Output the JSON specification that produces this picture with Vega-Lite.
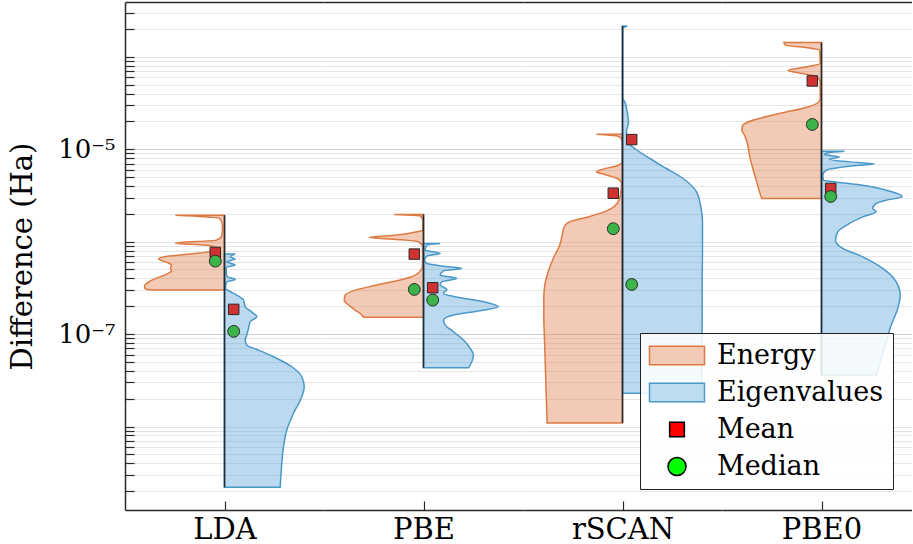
{
  "$schema": "https://vega.github.io/schema/vega-lite/v6.json",
  "padding": {"left": 8, "top": -1, "right": 0, "bottom": 0},
  "background": "white",
  "config": {
    "view": {"stroke": null},
    "font": "DejaVu Serif",
    "axis": {"labelFont": "DejaVu Serif", "titleFont": "DejaVu Serif", "labelColor": "#000000", "titleColor": "#000000"},
    "legend": {"labelFont": "DejaVu Serif"}
  },
  "datasets": {
    "dens": [
      {"m":"LDA","s":"Energy","v":1.934e-6,"d":0.49},
      {"m":"LDA","s":"Energy","v":1.863e-6,"d":0.2},
      {"m":"LDA","s":"Energy","v":1.795e-6,"d":0.05},
      {"m":"LDA","s":"Energy","v":1.508e-6,"d":0.02},
      {"m":"LDA","s":"Energy","v":1.176e-6,"d":0.025},
      {"m":"LDA","s":"Energy","v":1.038e-6,"d":0.08},
      {"m":"LDA","s":"Energy","v":9.63e-7,"d":0.49},
      {"m":"LDA","s":"Energy","v":9.17e-7,"d":0.2},
      {"m":"LDA","s":"Energy","v":8.51e-7,"d":0.08},
      {"m":"LDA","s":"Energy","v":7.89e-7,"d":0.12},
      {"m":"LDA","s":"Energy","v":7.33e-7,"d":0.35},
      {"m":"LDA","s":"Energy","v":6.8e-7,"d":0.62},
      {"m":"LDA","s":"Energy","v":6.47e-7,"d":0.66},
      {"m":"LDA","s":"Energy","v":6.0e-7,"d":0.58},
      {"m":"LDA","s":"Energy","v":5.57e-7,"d":0.53},
      {"m":"LDA","s":"Energy","v":5.17e-7,"d":0.54},
      {"m":"LDA","s":"Energy","v":4.8e-7,"d":0.53},
      {"m":"LDA","s":"Energy","v":4.45e-7,"d":0.58},
      {"m":"LDA","s":"Energy","v":4.03e-7,"d":0.68},
      {"m":"LDA","s":"Energy","v":3.65e-7,"d":0.76},
      {"m":"LDA","s":"Energy","v":3.3e-7,"d":0.8},
      {"m":"LDA","s":"Energy","v":3.07e-7,"d":0.79},
      {"m":"LDA","s":"Energy","v":2.99e-7,"d":0.71},
      {"m":"LDA","s":"Eigenvalues","v":7.33e-7,"d":0.107},
      {"m":"LDA","s":"Eigenvalues","v":6.85e-7,"d":0.057},
      {"m":"LDA","s":"Eigenvalues","v":6.47e-7,"d":0.107},
      {"m":"LDA","s":"Eigenvalues","v":6.05e-7,"d":0.023},
      {"m":"LDA","s":"Eigenvalues","v":5.57e-7,"d":0.107},
      {"m":"LDA","s":"Eigenvalues","v":5.26e-7,"d":0.017},
      {"m":"LDA","s":"Eigenvalues","v":4.53e-7,"d":0.017},
      {"m":"LDA","s":"Eigenvalues","v":4.16e-7,"d":0.03},
      {"m":"LDA","s":"Eigenvalues","v":3.9e-7,"d":0.107},
      {"m":"LDA","s":"Eigenvalues","v":3.65e-7,"d":0.02},
      {"m":"LDA","s":"Eigenvalues","v":3.12e-7,"d":0.01},
      {"m":"LDA","s":"Eigenvalues","v":2.87e-7,"d":0.06},
      {"m":"LDA","s":"Eigenvalues","v":2.64e-7,"d":0.123},
      {"m":"LDA","s":"Eigenvalues","v":2.33e-7,"d":0.19},
      {"m":"LDA","s":"Eigenvalues","v":1.97e-7,"d":0.207},
      {"m":"LDA","s":"Eigenvalues","v":1.74e-7,"d":0.27},
      {"m":"LDA","s":"Eigenvalues","v":1.54e-7,"d":0.323},
      {"m":"LDA","s":"Eigenvalues","v":1.36e-7,"d":0.257},
      {"m":"LDA","s":"Eigenvalues","v":1.15e-7,"d":0.24},
      {"m":"LDA","s":"Eigenvalues","v":9.75e-8,"d":0.223},
      {"m":"LDA","s":"Eigenvalues","v":8.61e-8,"d":0.207},
      {"m":"LDA","s":"Eigenvalues","v":7.6e-8,"d":0.223},
      {"m":"LDA","s":"Eigenvalues","v":6.71e-8,"d":0.34},
      {"m":"LDA","s":"Eigenvalues","v":5.68e-8,"d":0.49},
      {"m":"LDA","s":"Eigenvalues","v":4.43e-8,"d":0.673},
      {"m":"LDA","s":"Eigenvalues","v":3.45e-8,"d":0.773},
      {"m":"LDA","s":"Eigenvalues","v":2.69e-8,"d":0.797},
      {"m":"LDA","s":"Eigenvalues","v":2.1e-8,"d":0.773},
      {"m":"LDA","s":"Eigenvalues","v":1.39e-8,"d":0.69},
      {"m":"LDA","s":"Eigenvalues","v":9.17e-9,"d":0.623},
      {"m":"LDA","s":"Eigenvalues","v":6.05e-9,"d":0.59},
      {"m":"LDA","s":"Eigenvalues","v":4.0e-9,"d":0.573},
      {"m":"LDA","s":"Eigenvalues","v":2.2e-9,"d":0.557},
      {"m":"PBE","s":"Energy","v":1.968e-6,"d":0.293},
      {"m":"PBE","s":"Energy","v":1.9e-6,"d":0.033},
      {"m":"PBE","s":"Energy","v":1.708e-6,"d":0.007},
      {"m":"PBE","s":"Energy","v":1.331e-6,"d":0.007},
      {"m":"PBE","s":"Energy","v":1.276e-6,"d":0.067},
      {"m":"PBE","s":"Energy","v":1.176e-6,"d":0.267},
      {"m":"PBE","s":"Energy","v":1.11e-6,"d":0.54},
      {"m":"PBE","s":"Energy","v":1.056e-6,"d":0.267},
      {"m":"PBE","s":"Energy","v":9.95e-7,"d":0.05},
      {"m":"PBE","s":"Energy","v":8.79e-7,"d":0.01},
      {"m":"PBE","s":"Energy","v":5.34e-7,"d":0.01},
      {"m":"PBE","s":"Energy","v":4.92e-7,"d":0.027},
      {"m":"PBE","s":"Energy","v":4.34e-7,"d":0.083},
      {"m":"PBE","s":"Energy","v":3.84e-7,"d":0.233},
      {"m":"PBE","s":"Energy","v":3.39e-7,"d":0.467},
      {"m":"PBE","s":"Energy","v":2.99e-7,"d":0.683},
      {"m":"PBE","s":"Energy","v":2.64e-7,"d":0.783},
      {"m":"PBE","s":"Energy","v":2.33e-7,"d":0.793},
      {"m":"PBE","s":"Energy","v":2.06e-7,"d":0.75},
      {"m":"PBE","s":"Energy","v":1.82e-7,"d":0.683},
      {"m":"PBE","s":"Energy","v":1.61e-7,"d":0.617},
      {"m":"PBE","s":"Energy","v":1.52e-7,"d":0.6},
      {"m":"PBE","s":"Eigenvalues","v":9.56e-7,"d":0.167},
      {"m":"PBE","s":"Eigenvalues","v":9.17e-7,"d":0.033},
      {"m":"PBE","s":"Eigenvalues","v":8.09e-7,"d":0.017},
      {"m":"PBE","s":"Eigenvalues","v":7.46e-7,"d":0.167},
      {"m":"PBE","s":"Eigenvalues","v":6.97e-7,"d":0.033},
      {"m":"PBE","s":"Eigenvalues","v":6.31e-7,"d":0.01},
      {"m":"PBE","s":"Eigenvalues","v":5.81e-7,"d":0.033},
      {"m":"PBE","s":"Eigenvalues","v":5.43e-7,"d":0.2},
      {"m":"PBE","s":"Eigenvalues","v":5.13e-7,"d":0.383},
      {"m":"PBE","s":"Eigenvalues","v":4.84e-7,"d":0.2},
      {"m":"PBE","s":"Eigenvalues","v":4.34e-7,"d":0.167},
      {"m":"PBE","s":"Eigenvalues","v":4.0e-7,"d":0.333},
      {"m":"PBE","s":"Eigenvalues","v":3.68e-7,"d":0.183},
      {"m":"PBE","s":"Eigenvalues","v":3.39e-7,"d":0.167},
      {"m":"PBE","s":"Eigenvalues","v":3.04e-7,"d":0.233},
      {"m":"PBE","s":"Eigenvalues","v":2.75e-7,"d":0.2},
      {"m":"PBE","s":"Eigenvalues","v":2.53e-7,"d":0.317},
      {"m":"PBE","s":"Eigenvalues","v":2.24e-7,"d":0.6},
      {"m":"PBE","s":"Eigenvalues","v":1.97e-7,"d":0.75},
      {"m":"PBE","s":"Eigenvalues","v":1.79e-7,"d":0.567},
      {"m":"PBE","s":"Eigenvalues","v":1.61e-7,"d":0.3},
      {"m":"PBE","s":"Eigenvalues","v":1.42e-7,"d":0.2},
      {"m":"PBE","s":"Eigenvalues","v":1.25e-7,"d":0.217},
      {"m":"PBE","s":"Eigenvalues","v":1.06e-7,"d":0.3},
      {"m":"PBE","s":"Eigenvalues","v":8.61e-8,"d":0.4},
      {"m":"PBE","s":"Eigenvalues","v":7.0e-8,"d":0.467},
      {"m":"PBE","s":"Eigenvalues","v":5.93e-8,"d":0.5},
      {"m":"PBE","s":"Eigenvalues","v":5.02e-8,"d":0.483},
      {"m":"PBE","s":"Eigenvalues","v":4.32e-8,"d":0.45},
      {"m":"rSCAN","s":"Energy","v":1.453e-5,"d":0.26},
      {"m":"rSCAN","s":"Energy","v":1.394e-5,"d":0.06},
      {"m":"rSCAN","s":"Energy","v":1.326e-5,"d":0.02},
      {"m":"rSCAN","s":"Energy","v":1.2e-5,"d":0.003},
      {"m":"rSCAN","s":"Energy","v":7.3e-6,"d":0.003},
      {"m":"rSCAN","s":"Energy","v":6.71e-6,"d":0.043},
      {"m":"rSCAN","s":"Energy","v":6.08e-6,"d":0.193},
      {"m":"rSCAN","s":"Energy","v":5.68e-6,"d":0.26},
      {"m":"rSCAN","s":"Energy","v":5.33e-6,"d":0.177},
      {"m":"rSCAN","s":"Energy","v":4.82e-6,"d":0.053},
      {"m":"rSCAN","s":"Energy","v":4.26e-6,"d":0.01},
      {"m":"rSCAN","s":"Energy","v":3.18e-6,"d":0.02},
      {"m":"rSCAN","s":"Energy","v":2.59e-6,"d":0.053},
      {"m":"rSCAN","s":"Energy","v":2.19e-6,"d":0.143},
      {"m":"rSCAN","s":"Energy","v":1.85e-6,"d":0.343},
      {"m":"rSCAN","s":"Energy","v":1.64e-6,"d":0.527},
      {"m":"rSCAN","s":"Energy","v":1.45e-6,"d":0.583},
      {"m":"rSCAN","s":"Energy","v":1.176e-6,"d":0.603},
      {"m":"rSCAN","s":"Energy","v":9.17e-7,"d":0.627},
      {"m":"rSCAN","s":"Energy","v":6.58e-7,"d":0.693},
      {"m":"rSCAN","s":"Energy","v":4.72e-7,"d":0.743},
      {"m":"rSCAN","s":"Energy","v":3.39e-7,"d":0.777},
      {"m":"rSCAN","s":"Energy","v":2.43e-7,"d":0.787},
      {"m":"rSCAN","s":"Energy","v":1.61e-7,"d":0.787},
      {"m":"rSCAN","s":"Energy","v":1.06e-7,"d":0.783},
      {"m":"rSCAN","s":"Energy","v":7.0e-8,"d":0.777},
      {"m":"rSCAN","s":"Energy","v":3.05e-8,"d":0.767},
      {"m":"rSCAN","s":"Energy","v":1.09e-8,"d":0.753},
      {"m":"rSCAN","s":"Eigenvalues","v":2.153e-4,"d":0.047},
      {"m":"rSCAN","s":"Eigenvalues","v":2.018e-4,"d":0.003},
      {"m":"rSCAN","s":"Eigenvalues","v":3.532e-5,"d":0.003},
      {"m":"rSCAN","s":"Eigenvalues","v":3.246e-5,"d":0.023},
      {"m":"rSCAN","s":"Eigenvalues","v":2.53e-5,"d":0.047},
      {"m":"rSCAN","s":"Eigenvalues","v":1.973e-5,"d":0.06},
      {"m":"rSCAN","s":"Eigenvalues","v":1.538e-5,"d":0.04},
      {"m":"rSCAN","s":"Eigenvalues","v":1.199e-5,"d":0.047},
      {"m":"rSCAN","s":"Eigenvalues","v":1.018e-5,"d":0.123},
      {"m":"rSCAN","s":"Eigenvalues","v":7.93e-6,"d":0.273},
      {"m":"rSCAN","s":"Eigenvalues","v":6.18e-6,"d":0.44},
      {"m":"rSCAN","s":"Eigenvalues","v":4.82e-6,"d":0.607},
      {"m":"rSCAN","s":"Eigenvalues","v":3.455e-6,"d":0.74},
      {"m":"rSCAN","s":"Eigenvalues","v":2.48e-6,"d":0.78},
      {"m":"rSCAN","s":"Eigenvalues","v":1.64e-6,"d":0.8},
      {"m":"rSCAN","s":"Eigenvalues","v":8.44e-7,"d":0.8},
      {"m":"rSCAN","s":"Eigenvalues","v":3.68e-7,"d":0.797},
      {"m":"rSCAN","s":"Eigenvalues","v":1.61e-7,"d":0.797},
      {"m":"rSCAN","s":"Eigenvalues","v":7.0e-8,"d":0.793},
      {"m":"rSCAN","s":"Eigenvalues","v":2.29e-8,"d":0.79},
      {"m":"PBE0","s":"Energy","v":1.424e-4,"d":0.377},
      {"m":"PBE0","s":"Energy","v":1.331e-4,"d":0.36},
      {"m":"PBE0","s":"Energy","v":1.245e-4,"d":0.12},
      {"m":"PBE0","s":"Energy","v":1.176e-4,"d":0.02},
      {"m":"PBE0","s":"Energy","v":8.44e-5,"d":0.013},
      {"m":"PBE0","s":"Energy","v":7.76e-5,"d":0.153},
      {"m":"PBE0","s":"Energy","v":7.15e-5,"d":0.337},
      {"m":"PBE0","s":"Energy","v":6.58e-5,"d":0.187},
      {"m":"PBE0","s":"Energy","v":6.05e-5,"d":0.047},
      {"m":"PBE0","s":"Energy","v":5.34e-5,"d":0.013},
      {"m":"PBE0","s":"Energy","v":3.53e-5,"d":0.013},
      {"m":"PBE0","s":"Energy","v":3.25e-5,"d":0.027},
      {"m":"PBE0","s":"Energy","v":2.866e-5,"d":0.137},
      {"m":"PBE0","s":"Energy","v":2.43e-5,"d":0.42},
      {"m":"PBE0","s":"Energy","v":2.058e-5,"d":0.687},
      {"m":"PBE0","s":"Energy","v":1.818e-5,"d":0.787},
      {"m":"PBE0","s":"Energy","v":1.605e-5,"d":0.797},
      {"m":"PBE0","s":"Energy","v":1.417e-5,"d":0.77},
      {"m":"PBE0","s":"Energy","v":1.105e-5,"d":0.737},
      {"m":"PBE0","s":"Energy","v":8.61e-6,"d":0.72},
      {"m":"PBE0","s":"Energy","v":6.18e-6,"d":0.687},
      {"m":"PBE0","s":"Energy","v":4.43e-6,"d":0.647},
      {"m":"PBE0","s":"Energy","v":3.455e-6,"d":0.62},
      {"m":"PBE0","s":"Energy","v":2.93e-6,"d":0.597},
      {"m":"PBE0","s":"Eigenvalues","v":9.51e-6,"d":0.23},
      {"m":"PBE0","s":"Eigenvalues","v":9.21e-6,"d":0.08},
      {"m":"PBE0","s":"Eigenvalues","v":8.76e-6,"d":0.03},
      {"m":"PBE0","s":"Eigenvalues","v":8.26e-6,"d":0.18},
      {"m":"PBE0","s":"Eigenvalues","v":7.79e-6,"d":0.08},
      {"m":"PBE0","s":"Eigenvalues","v":7.29e-6,"d":0.28},
      {"m":"PBE0","s":"Eigenvalues","v":6.94e-6,"d":0.53},
      {"m":"PBE0","s":"Eigenvalues","v":6.55e-6,"d":0.28},
      {"m":"PBE0","s":"Eigenvalues","v":5.93e-6,"d":0.047},
      {"m":"PBE0","s":"Eigenvalues","v":5.23e-6,"d":0.013},
      {"m":"PBE0","s":"Eigenvalues","v":4.62e-6,"d":0.02},
      {"m":"PBE0","s":"Eigenvalues","v":4.365e-6,"d":0.18},
      {"m":"PBE0","s":"Eigenvalues","v":4.08e-6,"d":0.413},
      {"m":"PBE0","s":"Eigenvalues","v":3.6e-6,"d":0.647},
      {"m":"PBE0","s":"Eigenvalues","v":3.24e-6,"d":0.78},
      {"m":"PBE0","s":"Eigenvalues","v":3.05e-6,"d":0.807},
      {"m":"PBE0","s":"Eigenvalues","v":2.81e-6,"d":0.647},
      {"m":"PBE0","s":"Eigenvalues","v":2.59e-6,"d":0.547},
      {"m":"PBE0","s":"Eigenvalues","v":2.285e-6,"d":0.513},
      {"m":"PBE0","s":"Eigenvalues","v":2.1e-6,"d":0.547},
      {"m":"PBE0","s":"Eigenvalues","v":1.85e-6,"d":0.413},
      {"m":"PBE0","s":"Eigenvalues","v":1.573e-6,"d":0.28},
      {"m":"PBE0","s":"Eigenvalues","v":1.276e-6,"d":0.163},
      {"m":"PBE0","s":"Eigenvalues","v":1.038e-6,"d":0.14},
      {"m":"PBE0","s":"Eigenvalues","v":8.44e-7,"d":0.213},
      {"m":"PBE0","s":"Eigenvalues","v":6.85e-7,"d":0.413},
      {"m":"PBE0","s":"Eigenvalues","v":5.13e-7,"d":0.613},
      {"m":"PBE0","s":"Eigenvalues","v":3.68e-7,"d":0.747},
      {"m":"PBE0","s":"Eigenvalues","v":2.64e-7,"d":0.787},
      {"m":"PBE0","s":"Eigenvalues","v":1.9e-7,"d":0.763},
      {"m":"PBE0","s":"Eigenvalues","v":1.25e-7,"d":0.697},
      {"m":"PBE0","s":"Eigenvalues","v":8.26e-8,"d":0.647},
      {"m":"PBE0","s":"Eigenvalues","v":5.5e-8,"d":0.6},
      {"m":"PBE0","s":"Eigenvalues","v":3.6e-8,"d":0.55}
    ],
    "stats": [
      {"m":"LDA","s":"Energy","t":"Mean","v":7.64e-7},
      {"m":"LDA","s":"Energy","t":"Median","v":6.15e-7},
      {"m":"LDA","s":"Eigenvalues","t":"Mean","v":1.85e-7},
      {"m":"LDA","s":"Eigenvalues","t":"Median","v":1.07e-7},
      {"m":"PBE","s":"Energy","t":"Mean","v":7.33e-7},
      {"m":"PBE","s":"Energy","t":"Median","v":3.04e-7},
      {"m":"PBE","s":"Eigenvalues","t":"Mean","v":3.17e-7},
      {"m":"PBE","s":"Eigenvalues","t":"Median","v":2.33e-7},
      {"m":"rSCAN","s":"Energy","t":"Mean","v":3.34e-6},
      {"m":"rSCAN","s":"Energy","t":"Median","v":1.38e-6},
      {"m":"rSCAN","s":"Eigenvalues","t":"Mean","v":1.27e-5},
      {"m":"rSCAN","s":"Eigenvalues","t":"Median","v":3.44e-7},
      {"m":"PBE0","s":"Energy","t":"Mean","v":5.47e-5},
      {"m":"PBE0","s":"Energy","t":"Median","v":1.85e-5},
      {"m":"PBE0","s":"Eigenvalues","t":"Mean","v":3.76e-6},
      {"m":"PBE0","s":"Eigenvalues","t":"Median","v":3.08e-6}
    ],
    "legendItems": [
      {"m":"PBE0","k":"Energy","v":1e-6},
      {"m":"PBE0","k":"Eigenvalues","v":1e-6},
      {"m":"PBE0","k":"Mean","v":1e-6},
      {"m":"PBE0","k":"Median","v":1e-6}
    ]
  },
  "spacing": 0,
  "bounds": "flush",
  "hconcat": [
    {
      "width": 199, "height": 508,
      "encoding": {
        "y": {"field": "v", "type": "quantitative", "scale": {"type": "log", "domain": [1.25e-9, 3.91e-4], "nice": false},
          "axis": {
            "values": [2e-9,3e-9,4e-9,5e-9,6e-9,7e-9,8e-9,9e-9,1e-8,2e-8,3e-8,4e-8,5e-8,6e-8,7e-8,8e-8,9e-8,1e-7,2e-7,3e-7,4e-7,5e-7,6e-7,7e-7,8e-7,9e-7,1e-6,2e-6,3e-6,4e-6,5e-6,6e-6,7e-6,8e-6,9e-6,1e-5,2e-5,3e-5,4e-5,5e-5,6e-5,7e-5,8e-5,9e-5,1e-4,2e-4,3e-4],
            "labelExpr": "datum.value == 1e-5 ? '10⁻⁵' : datum.value == 1e-7 ? '10⁻⁷' : ''",
            "labelFontSize": 26, "labelPadding": 19, "labelOverlap": false, "labelFlush": false, "labelBaseline": "middle",
            "tickSize": -9, "tickWidth": 1.2, "tickColor": "#2a2a2a",
            "domainColor": "#2a2a2a", "domainWidth": 1.5,
            "grid": true, "gridColor": {"condition": {"test": "datum.value == 1e-5 || datum.value == 1e-7", "value": "#cfcfcf"}, "value": "#e6e6e6"}, "gridWidth": 1,
            "title": "Difference (Ha)", "titleFontSize": 29, "titleFontWeight": "normal", "titleX": -103, "titleBaseline": "middle"
          }
        }
      },
      "layer": [
        {
          "data": {"name": "dens"},
          "transform": [{"filter": "datum.m == 'LDA' && datum.s == 'Energy'"}],
          "mark": {"type": "area", "orient": "horizontal", "interpolate": "monotone", "fill": "#e07b45", "fillOpacity": 0.4, "stroke": "#dd7a42", "strokeWidth": 1.5},
          "encoding": {
            "x": {"field": "d", "type": "quantitative", "scale": {"domain": [-0.995, 0.995], "reverse": true, "nice": false, "zero": false},
              "axis": {"orient": "top", "ticks": false, "labels": false, "grid": false, "title": null, "domainColor": "#2a2a2a", "domainWidth": 1.5}},
            "x2": {"datum": 0}
          }
        },
        {
          "data": {"name": "dens"},
          "transform": [{"filter": "datum.m == 'LDA' && datum.s == 'Eigenvalues'"}],
          "mark": {"type": "area", "orient": "horizontal", "interpolate": "monotone", "fill": "#4b9fd5", "fillOpacity": 0.38, "stroke": "#4a98c9", "strokeWidth": 1.5},
          "encoding": {
            "x": {"field": "d", "type": "quantitative", "scale": {"domain": [-0.995, 0.995], "nice": false, "zero": false},
              "axis": {"orient": "bottom", "values": [0], "labelExpr": "'LDA'", "labelFontSize": 29, "labelPadding": 37, "labelBaseline": "alphabetic", "labelFlush": false, "tickSize": -9, "tickWidth": 1.2, "tickColor": "#2a2a2a", "domainColor": "#2a2a2a", "domainWidth": 1.5, "grid": false, "title": null}},
            "x2": {"datum": 0}
          }
        },
        {
          "data": {"name": "dens"},
          "transform": [{"filter": "datum.m == 'LDA'"}],
          "mark": {"type": "rule", "color": "#1f2a33", "strokeWidth": 1.6},
          "encoding": {
            "x": {"datum": 0, "type": "quantitative", "scale": {"domain": [-0.995, 0.995], "nice": false, "zero": false}, "axis": null},
            "y": {"aggregate": "min", "field": "v", "type": "quantitative"},
            "y2": {"aggregate": "max", "field": "v"}
          }
        },
        {
          "data": {"name": "stats"},
          "transform": [{"filter": "datum.m == 'LDA' && datum.s == 'Energy' && datum.t == 'Mean'"}],
          "mark": {"type": "square", "color": "#d03232", "stroke": "#2a2a2a", "strokeWidth": 1, "size": 110, "opacity": 1},
          "encoding": {"x": {"datum": 0.092, "type": "quantitative", "scale": {"domain": [-0.995, 0.995], "reverse": true, "nice": false, "zero": false}, "axis": null}}
        },
        {
          "data": {"name": "stats"},
          "transform": [{"filter": "datum.m == 'LDA' && datum.s == 'Energy' && datum.t == 'Median'"}],
          "mark": {"type": "circle", "color": "#3bb44a", "stroke": "#2a2a2a", "strokeWidth": 1, "size": 140, "opacity": 1},
          "encoding": {"x": {"datum": 0.092, "type": "quantitative", "scale": {"domain": [-0.995, 0.995], "reverse": true, "nice": false, "zero": false}, "axis": null}}
        },
        {
          "data": {"name": "stats"},
          "transform": [{"filter": "datum.m == 'LDA' && datum.s == 'Eigenvalues' && datum.t == 'Mean'"}],
          "mark": {"type": "square", "color": "#d03232", "stroke": "#2a2a2a", "strokeWidth": 1, "size": 110, "opacity": 1},
          "encoding": {"x": {"datum": 0.092, "type": "quantitative", "scale": {"domain": [-0.995, 0.995], "nice": false, "zero": false}, "axis": null}}
        },
        {
          "data": {"name": "stats"},
          "transform": [{"filter": "datum.m == 'LDA' && datum.s == 'Eigenvalues' && datum.t == 'Median'"}],
          "mark": {"type": "circle", "color": "#3bb44a", "stroke": "#2a2a2a", "strokeWidth": 1, "size": 140, "opacity": 1},
          "encoding": {"x": {"datum": 0.092, "type": "quantitative", "scale": {"domain": [-0.995, 0.995], "nice": false, "zero": false}, "axis": null}}
        }
      ],
      "resolve": {"scale": {"x": "independent"}, "axis": {"x": "independent"}}
    },
    {
      "width": 199, "height": 508,
      "encoding": {
        "y": {"field": "v", "type": "quantitative", "scale": {"type": "log", "domain": [1.25e-9, 3.91e-4], "nice": false},
          "axis": {
            "values": [2e-9,3e-9,4e-9,5e-9,6e-9,7e-9,8e-9,9e-9,1e-8,2e-8,3e-8,4e-8,5e-8,6e-8,7e-8,8e-8,9e-8,1e-7,2e-7,3e-7,4e-7,5e-7,6e-7,7e-7,8e-7,9e-7,1e-6,2e-6,3e-6,4e-6,5e-6,6e-6,7e-6,8e-6,9e-6,1e-5,2e-5,3e-5,4e-5,5e-5,6e-5,7e-5,8e-5,9e-5,1e-4,2e-4,3e-4],
            "labels": false, "ticks": false, "domain": false, "title": null,
            "grid": true, "gridColor": {"condition": {"test": "datum.value == 1e-5 || datum.value == 1e-7", "value": "#cfcfcf"}, "value": "#e6e6e6"}, "gridWidth": 1
          }
        }
      },
      "layer": [
        {
          "data": {"name": "dens"},
          "transform": [{"filter": "datum.m == 'PBE' && datum.s == 'Energy'"}],
          "mark": {"type": "area", "orient": "horizontal", "interpolate": "monotone", "fill": "#e07b45", "fillOpacity": 0.4, "stroke": "#dd7a42", "strokeWidth": 1.5},
          "encoding": {
            "x": {"field": "d", "type": "quantitative", "scale": {"domain": [-0.995, 0.995], "reverse": true, "nice": false, "zero": false},
              "axis": {"orient": "top", "ticks": false, "labels": false, "grid": false, "title": null, "domainColor": "#2a2a2a", "domainWidth": 1.5}},
            "x2": {"datum": 0}
          }
        },
        {
          "data": {"name": "dens"},
          "transform": [{"filter": "datum.m == 'PBE' && datum.s == 'Eigenvalues'"}],
          "mark": {"type": "area", "orient": "horizontal", "interpolate": "monotone", "fill": "#4b9fd5", "fillOpacity": 0.38, "stroke": "#4a98c9", "strokeWidth": 1.5},
          "encoding": {
            "x": {"field": "d", "type": "quantitative", "scale": {"domain": [-0.995, 0.995], "nice": false, "zero": false},
              "axis": {"orient": "bottom", "values": [0], "labelExpr": "'PBE'", "labelFontSize": 29, "labelPadding": 37, "labelBaseline": "alphabetic", "labelFlush": false, "tickSize": -9, "tickWidth": 1.2, "tickColor": "#2a2a2a", "domainColor": "#2a2a2a", "domainWidth": 1.5, "grid": false, "title": null}},
            "x2": {"datum": 0}
          }
        },
        {
          "data": {"name": "dens"},
          "transform": [{"filter": "datum.m == 'PBE'"}],
          "mark": {"type": "rule", "color": "#1f2a33", "strokeWidth": 1.6},
          "encoding": {
            "x": {"datum": 0, "type": "quantitative", "scale": {"domain": [-0.995, 0.995], "nice": false, "zero": false}, "axis": null},
            "y": {"aggregate": "min", "field": "v", "type": "quantitative"},
            "y2": {"aggregate": "max", "field": "v"}
          }
        },
        {
          "data": {"name": "stats"},
          "transform": [{"filter": "datum.m == 'PBE' && datum.s == 'Energy' && datum.t == 'Mean'"}],
          "mark": {"type": "square", "color": "#d03232", "stroke": "#2a2a2a", "strokeWidth": 1, "size": 110, "opacity": 1},
          "encoding": {"x": {"datum": 0.092, "type": "quantitative", "scale": {"domain": [-0.995, 0.995], "reverse": true, "nice": false, "zero": false}, "axis": null}}
        },
        {
          "data": {"name": "stats"},
          "transform": [{"filter": "datum.m == 'PBE' && datum.s == 'Energy' && datum.t == 'Median'"}],
          "mark": {"type": "circle", "color": "#3bb44a", "stroke": "#2a2a2a", "strokeWidth": 1, "size": 140, "opacity": 1},
          "encoding": {"x": {"datum": 0.092, "type": "quantitative", "scale": {"domain": [-0.995, 0.995], "reverse": true, "nice": false, "zero": false}, "axis": null}}
        },
        {
          "data": {"name": "stats"},
          "transform": [{"filter": "datum.m == 'PBE' && datum.s == 'Eigenvalues' && datum.t == 'Mean'"}],
          "mark": {"type": "square", "color": "#d03232", "stroke": "#2a2a2a", "strokeWidth": 1, "size": 110, "opacity": 1},
          "encoding": {"x": {"datum": 0.092, "type": "quantitative", "scale": {"domain": [-0.995, 0.995], "nice": false, "zero": false}, "axis": null}}
        },
        {
          "data": {"name": "stats"},
          "transform": [{"filter": "datum.m == 'PBE' && datum.s == 'Eigenvalues' && datum.t == 'Median'"}],
          "mark": {"type": "circle", "color": "#3bb44a", "stroke": "#2a2a2a", "strokeWidth": 1, "size": 140, "opacity": 1},
          "encoding": {"x": {"datum": 0.092, "type": "quantitative", "scale": {"domain": [-0.995, 0.995], "nice": false, "zero": false}, "axis": null}}
        }
      ],
      "resolve": {"scale": {"x": "independent"}, "axis": {"x": "independent"}}
    },
    {
      "width": 199, "height": 508,
      "encoding": {
        "y": {"field": "v", "type": "quantitative", "scale": {"type": "log", "domain": [1.25e-9, 3.91e-4], "nice": false},
          "axis": {
            "values": [2e-9,3e-9,4e-9,5e-9,6e-9,7e-9,8e-9,9e-9,1e-8,2e-8,3e-8,4e-8,5e-8,6e-8,7e-8,8e-8,9e-8,1e-7,2e-7,3e-7,4e-7,5e-7,6e-7,7e-7,8e-7,9e-7,1e-6,2e-6,3e-6,4e-6,5e-6,6e-6,7e-6,8e-6,9e-6,1e-5,2e-5,3e-5,4e-5,5e-5,6e-5,7e-5,8e-5,9e-5,1e-4,2e-4,3e-4],
            "labels": false, "ticks": false, "domain": false, "title": null,
            "grid": true, "gridColor": {"condition": {"test": "datum.value == 1e-5 || datum.value == 1e-7", "value": "#cfcfcf"}, "value": "#e6e6e6"}, "gridWidth": 1
          }
        }
      },
      "layer": [
        {
          "data": {"name": "dens"},
          "transform": [{"filter": "datum.m == 'rSCAN' && datum.s == 'Energy'"}],
          "mark": {"type": "area", "orient": "horizontal", "interpolate": "monotone", "fill": "#e07b45", "fillOpacity": 0.4, "stroke": "#dd7a42", "strokeWidth": 1.5},
          "encoding": {
            "x": {"field": "d", "type": "quantitative", "scale": {"domain": [-0.995, 0.995], "reverse": true, "nice": false, "zero": false},
              "axis": {"orient": "top", "ticks": false, "labels": false, "grid": false, "title": null, "domainColor": "#2a2a2a", "domainWidth": 1.5}},
            "x2": {"datum": 0}
          }
        },
        {
          "data": {"name": "dens"},
          "transform": [{"filter": "datum.m == 'rSCAN' && datum.s == 'Eigenvalues'"}],
          "mark": {"type": "area", "orient": "horizontal", "interpolate": "monotone", "fill": "#4b9fd5", "fillOpacity": 0.38, "stroke": "#4a98c9", "strokeWidth": 1.5},
          "encoding": {
            "x": {"field": "d", "type": "quantitative", "scale": {"domain": [-0.995, 0.995], "nice": false, "zero": false},
              "axis": {"orient": "bottom", "values": [0], "labelExpr": "'rSCAN'", "labelFontSize": 29, "labelPadding": 37, "labelBaseline": "alphabetic", "labelFlush": false, "tickSize": -9, "tickWidth": 1.2, "tickColor": "#2a2a2a", "domainColor": "#2a2a2a", "domainWidth": 1.5, "grid": false, "title": null}},
            "x2": {"datum": 0}
          }
        },
        {
          "data": {"name": "dens"},
          "transform": [{"filter": "datum.m == 'rSCAN'"}],
          "mark": {"type": "rule", "color": "#1f2a33", "strokeWidth": 1.6},
          "encoding": {
            "x": {"datum": 0, "type": "quantitative", "scale": {"domain": [-0.995, 0.995], "nice": false, "zero": false}, "axis": null},
            "y": {"aggregate": "min", "field": "v", "type": "quantitative"},
            "y2": {"aggregate": "max", "field": "v"}
          }
        },
        {
          "data": {"name": "stats"},
          "transform": [{"filter": "datum.m == 'rSCAN' && datum.s == 'Energy' && datum.t == 'Mean'"}],
          "mark": {"type": "square", "color": "#d03232", "stroke": "#2a2a2a", "strokeWidth": 1, "size": 110, "opacity": 1},
          "encoding": {"x": {"datum": 0.092, "type": "quantitative", "scale": {"domain": [-0.995, 0.995], "reverse": true, "nice": false, "zero": false}, "axis": null}}
        },
        {
          "data": {"name": "stats"},
          "transform": [{"filter": "datum.m == 'rSCAN' && datum.s == 'Energy' && datum.t == 'Median'"}],
          "mark": {"type": "circle", "color": "#3bb44a", "stroke": "#2a2a2a", "strokeWidth": 1, "size": 140, "opacity": 1},
          "encoding": {"x": {"datum": 0.092, "type": "quantitative", "scale": {"domain": [-0.995, 0.995], "reverse": true, "nice": false, "zero": false}, "axis": null}}
        },
        {
          "data": {"name": "stats"},
          "transform": [{"filter": "datum.m == 'rSCAN' && datum.s == 'Eigenvalues' && datum.t == 'Mean'"}],
          "mark": {"type": "square", "color": "#d03232", "stroke": "#2a2a2a", "strokeWidth": 1, "size": 110, "opacity": 1},
          "encoding": {"x": {"datum": 0.092, "type": "quantitative", "scale": {"domain": [-0.995, 0.995], "nice": false, "zero": false}, "axis": null}}
        },
        {
          "data": {"name": "stats"},
          "transform": [{"filter": "datum.m == 'rSCAN' && datum.s == 'Eigenvalues' && datum.t == 'Median'"}],
          "mark": {"type": "circle", "color": "#3bb44a", "stroke": "#2a2a2a", "strokeWidth": 1, "size": 140, "opacity": 1},
          "encoding": {"x": {"datum": 0.092, "type": "quantitative", "scale": {"domain": [-0.995, 0.995], "nice": false, "zero": false}, "axis": null}}
        }
      ],
      "resolve": {"scale": {"x": "independent"}, "axis": {"x": "independent"}}
    },
    {
      "width": 190, "height": 508,
      "encoding": {
        "y": {"field": "v", "type": "quantitative", "scale": {"type": "log", "domain": [1.25e-9, 3.91e-4], "nice": false},
          "axis": {
            "values": [2e-9,3e-9,4e-9,5e-9,6e-9,7e-9,8e-9,9e-9,1e-8,2e-8,3e-8,4e-8,5e-8,6e-8,7e-8,8e-8,9e-8,1e-7,2e-7,3e-7,4e-7,5e-7,6e-7,7e-7,8e-7,9e-7,1e-6,2e-6,3e-6,4e-6,5e-6,6e-6,7e-6,8e-6,9e-6,1e-5,2e-5,3e-5,4e-5,5e-5,6e-5,7e-5,8e-5,9e-5,1e-4,2e-4,3e-4],
            "labels": false, "ticks": false, "domain": false, "title": null,
            "grid": true, "gridColor": {"condition": {"test": "datum.value == 1e-5 || datum.value == 1e-7", "value": "#cfcfcf"}, "value": "#e6e6e6"}, "gridWidth": 1
          }
        }
      },
      "layer": [
        {
          "data": {"name": "dens"},
          "transform": [{"filter": "datum.m == 'PBE0' && datum.s == 'Energy'"}],
          "mark": {"type": "area", "orient": "horizontal", "interpolate": "monotone", "fill": "#e07b45", "fillOpacity": 0.4, "stroke": "#dd7a42", "strokeWidth": 1.5},
          "encoding": {
            "x": {"field": "d", "type": "quantitative", "scale": {"domain": [-0.905, 0.995], "reverse": true, "nice": false, "zero": false},
              "axis": {"orient": "top", "ticks": false, "labels": false, "grid": false, "title": null, "domainColor": "#2a2a2a", "domainWidth": 1.5}},
            "x2": {"datum": 0}
          }
        },
        {
          "data": {"name": "dens"},
          "transform": [{"filter": "datum.m == 'PBE0' && datum.s == 'Eigenvalues'"}],
          "mark": {"type": "area", "orient": "horizontal", "interpolate": "monotone", "fill": "#4b9fd5", "fillOpacity": 0.38, "stroke": "#4a98c9", "strokeWidth": 1.5},
          "encoding": {
            "x": {"field": "d", "type": "quantitative", "scale": {"domain": [-0.995, 0.905], "nice": false, "zero": false},
              "axis": {"orient": "bottom", "values": [0], "labelExpr": "'PBE0'", "labelFontSize": 29, "labelPadding": 37, "labelBaseline": "alphabetic", "labelFlush": false, "tickSize": -9, "tickWidth": 1.2, "tickColor": "#2a2a2a", "domainColor": "#2a2a2a", "domainWidth": 1.5, "grid": false, "title": null}},
            "x2": {"datum": 0}
          }
        },
        {
          "data": {"name": "dens"},
          "transform": [{"filter": "datum.m == 'PBE0'"}],
          "mark": {"type": "rule", "color": "#1f2a33", "strokeWidth": 1.6},
          "encoding": {
            "x": {"datum": 0, "type": "quantitative", "scale": {"domain": [-0.995, 0.905], "nice": false, "zero": false}, "axis": null},
            "y": {"aggregate": "min", "field": "v", "type": "quantitative"},
            "y2": {"aggregate": "max", "field": "v"}
          }
        },
        {
          "data": {"name": "stats"},
          "transform": [{"filter": "datum.m == 'PBE0' && datum.s == 'Energy' && datum.t == 'Mean'"}],
          "mark": {"type": "square", "color": "#d03232", "stroke": "#2a2a2a", "strokeWidth": 1, "size": 110, "opacity": 1},
          "encoding": {"x": {"datum": 0.092, "type": "quantitative", "scale": {"domain": [-0.905, 0.995], "reverse": true, "nice": false, "zero": false}, "axis": null}}
        },
        {
          "data": {"name": "stats"},
          "transform": [{"filter": "datum.m == 'PBE0' && datum.s == 'Energy' && datum.t == 'Median'"}],
          "mark": {"type": "circle", "color": "#3bb44a", "stroke": "#2a2a2a", "strokeWidth": 1, "size": 140, "opacity": 1},
          "encoding": {"x": {"datum": 0.092, "type": "quantitative", "scale": {"domain": [-0.905, 0.995], "reverse": true, "nice": false, "zero": false}, "axis": null}}
        },
        {
          "data": {"name": "stats"},
          "transform": [{"filter": "datum.m == 'PBE0' && datum.s == 'Eigenvalues' && datum.t == 'Mean'"}],
          "mark": {"type": "square", "color": "#d03232", "stroke": "#2a2a2a", "strokeWidth": 1, "size": 110, "opacity": 1},
          "encoding": {"x": {"datum": 0.092, "type": "quantitative", "scale": {"domain": [-0.995, 0.905], "nice": false, "zero": false}, "axis": null}}
        },
        {
          "data": {"name": "stats"},
          "transform": [{"filter": "datum.m == 'PBE0' && datum.s == 'Eigenvalues' && datum.t == 'Median'"}],
          "mark": {"type": "circle", "color": "#3bb44a", "stroke": "#2a2a2a", "strokeWidth": 1, "size": 140, "opacity": 1},
          "encoding": {"x": {"datum": 0.092, "type": "quantitative", "scale": {"domain": [-0.995, 0.905], "nice": false, "zero": false}, "axis": null}}
        },
        {
          "data": {"name": "legendItems"},
          "mark": {"type": "point", "filled": true, "opacity": 0},
          "encoding": {
            "x": {"datum": 0, "type": "quantitative", "scale": {"domain": [-0.995, 0.905], "nice": false, "zero": false}, "axis": null},
            "fill": {"field": "k", "type": "nominal", "scale": {"domain": ["Energy", "Eigenvalues", "Mean", "Median"], "range": ["#f3cab5", "#bcdcf0", "#ff0000", "#00ff00"]},
              "legend": {"title": null, "orient": "none", "legendX": 515, "legendY": 331, "labelFontSize": 27, "labelColor": "#000000", "labelOffset": 26.5, "labelLimit": 400, "symbolSize": 484, "symbolOffset": 14.5, "symbolStrokeWidth": 1.5, "symbolOpacity": 1, "padding": 9, "rowPadding": 9, "fillColor": "rgba(255,255,255,0.85)", "strokeColor": "#222222"}},
            "stroke": {"field": "k", "type": "nominal", "scale": {"domain": ["Energy", "Eigenvalues", "Mean", "Median"], "range": ["#dd7a42", "#4a98c9", "#000000", "#000000"]},
              "legend": {"title": null, "orient": "none", "legendX": 515, "legendY": 331, "labelFontSize": 27, "labelColor": "#000000", "labelOffset": 26.5, "labelLimit": 400, "symbolSize": 484, "symbolOffset": 14.5, "symbolStrokeWidth": 1.5, "symbolOpacity": 1, "padding": 9, "rowPadding": 9, "fillColor": "rgba(255,255,255,0.85)", "strokeColor": "#222222"}},
            "shape": {"field": "k", "type": "nominal", "scale": {"domain": ["Energy", "Eigenvalues", "Mean", "Median"], "range": ["M-2.5,-0.85H2.5V0.85H-2.5Z", "M-2.5,-0.85H2.5V0.85H-2.5Z", "M-0.67,-0.67H0.67V0.67H-0.67Z", "M-0.82,0A0.82,0.82 0 1,0 0.82,0A0.82,0.82 0 1,0 -0.82,0Z"]},
              "legend": {"title": null, "orient": "none", "legendX": 515, "legendY": 331, "labelFontSize": 27, "labelColor": "#000000", "labelOffset": 26.5, "labelLimit": 400, "symbolSize": 484, "symbolOffset": 14.5, "symbolStrokeWidth": 1.5, "symbolOpacity": 1, "padding": 9, "rowPadding": 9, "fillColor": "rgba(255,255,255,0.85)", "strokeColor": "#222222"}}
          }
        }
      ],
      "resolve": {"scale": {"x": "independent"}, "axis": {"x": "independent"}}
    }
  ]
}
